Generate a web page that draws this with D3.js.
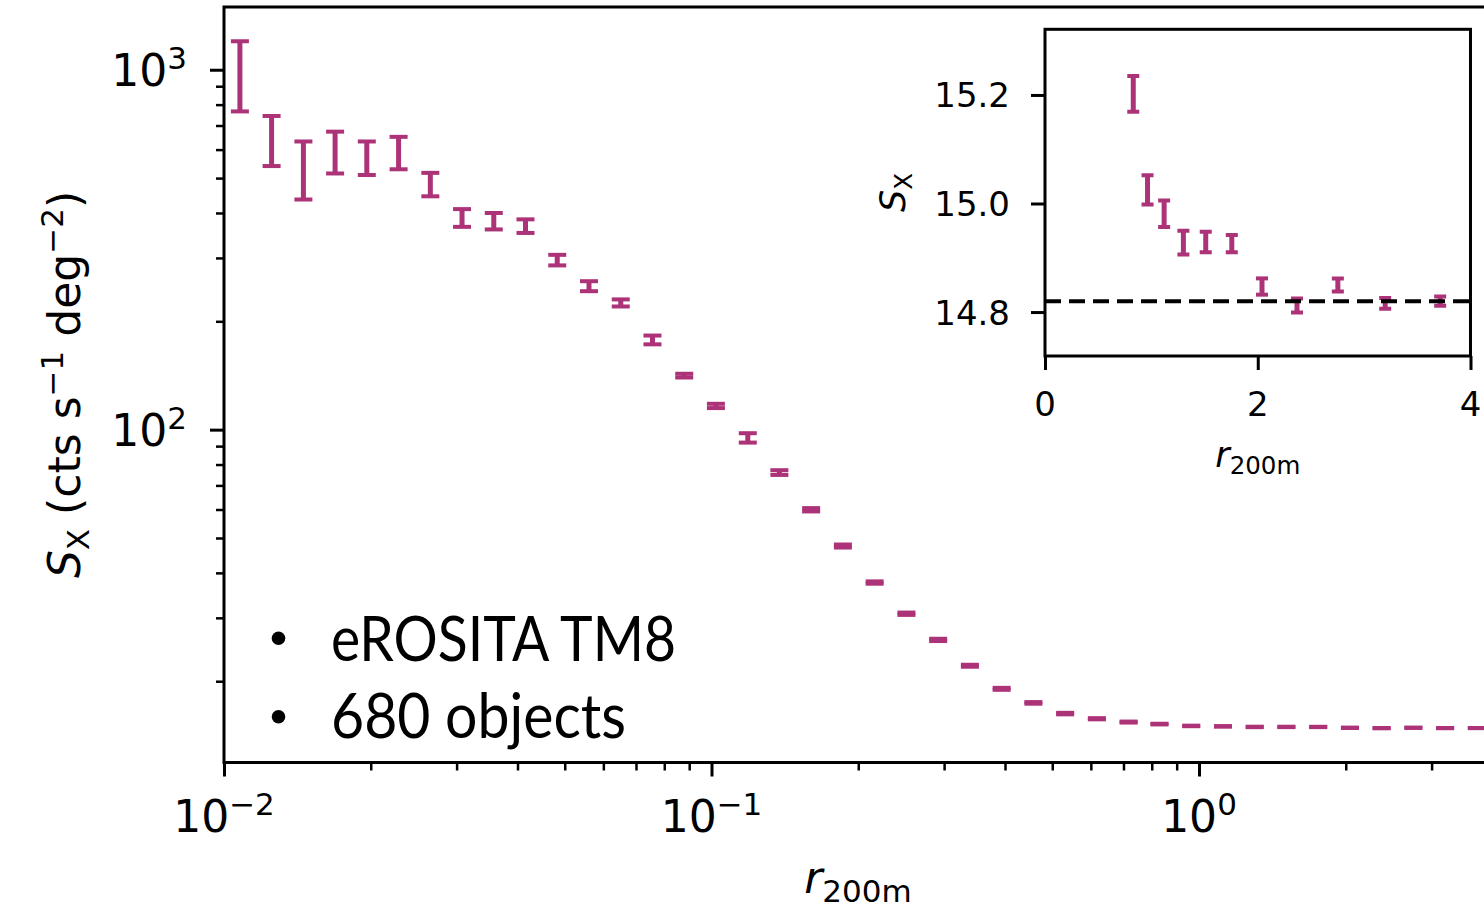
<!DOCTYPE html>
<html>
<head>
<meta charset="utf-8">
<script src="https://cdn.jsdelivr.net/npm/d3@7"></script>
<style>
  body { margin: 0; background: #fff; }
  text { font-family: "DejaVu Sans", sans-serif; fill: #000; white-space: pre; }
</style>
</head>
<body>
<div id="chart"></div>
<script>
// stacked profile, radial bins in r200m (log bins 0.01 - 4)
var radius = [0.01078, 0.01252, 0.01455, 0.01690, 0.01963, 0.02281, 0.02650, 0.03078, 0.03576, 0.04154,
              0.04826, 0.05607, 0.06514, 0.07567, 0.08791, 0.1021, 0.1187, 0.1378, 0.1601, 0.1860,
              0.2161, 0.2511, 0.2917, 0.3389, 0.3937, 0.4574, 0.5314, 0.6173, 0.7171, 0.8298,
              0.9639, 1.120, 1.301, 1.511, 1.756, 2.040, 2.369, 2.753, 3.198, 3.715];
// surface brightness, cts s^-1 deg^-2
var sx = [983, 642, 534, 594, 571, 590, 481, 388, 380, 368,
          296, 250.5, 225, 177.6, 141.3, 116.4, 94.9, 76.0, 59.9, 47.5,
          37.6, 30.8, 26.05, 22.08, 19.05, 17.41, 16.26, 15.73, 15.40, 15.202,
          15.025, 14.981, 14.928, 14.929, 14.926, 14.847, 14.812, 14.850, 14.816, 14.820];
var sxErr = [217, 102, 98, 79, 61, 61, 36, 22, 20, 16,
             10, 8, 5.1, 5, 1.7, 1.6, 2.85, 1.15, 0.64, 0.46,
             0.28, 0.23, 0.19, 0.14, 0.12, 0.09, 0.08, 0.06, 0.05, 0.033,
             0.027, 0.0245, 0.022, 0.019, 0.016, 0.015, 0.013, 0.012, 0.010, 0.0085];
var background = 14.82;   // dashed line in the inset

var legendLines = ["eROSITA TM8", "680 objects"];

var xMajor = [0.01, 0.1, 1];
var xMajorExp = ["\u22122", "\u22121", "0"];
var xMinor = [0.02,0.03,0.04,0.05,0.06,0.07,0.08,0.09, 0.2,0.3,0.4,0.5,0.6,0.7,0.8,0.9, 2,3];
var yMajor = [100, 1000];
var yMajorExp = ["2", "3"];
var yMinor = [20,30,40,50,60,70,80,90, 200,300,400,500,600,700,800,900];
var insetXTicks = [0, 2, 4];
var insetYTicks = [14.8, 15.0, 15.2];

var color = "#ad3378";
var width = 1484, height = 908;

var svg = d3.select("#chart").append("svg")
    .attr("width", width)
    .attr("height", height);

var data = radius.map(function(r, i) { return {r: r, v: sx[i], e: sxErr[i]}; });

// ---------- main panel
var x = d3.scaleLog().domain([0.01, 4]).range([224, 1492.5]);
var y = d3.scaleLog().domain([11.89, 1494]).range([762.5, 7]);

function errorbars(g, xs, ys, capW, lw, cw) {
    var eb = g.selectAll("g.eb")
        .data(data)
        .enter()
        .append("g")
        .attr("class", "eb");
    eb.append("line")
        .attr("x1", function(d) { return xs(d.r); })
        .attr("x2", function(d) { return xs(d.r); })
        .attr("y1", function(d) { return ys(d.v - d.e); })
        .attr("y2", function(d) { return ys(d.v + d.e); })
        .style("stroke", color)
        .style("stroke-width", lw);
    [-1, 1].forEach(function(s) {
        eb.append("line")
            .attr("x1", function(d) { return xs(d.r) - capW / 2; })
            .attr("x2", function(d) { return xs(d.r) + capW / 2; })
            .attr("y1", function(d) { return ys(d.v + s * d.e); })
            .attr("y2", function(d) { return ys(d.v + s * d.e); })
            .style("stroke", color)
            .style("stroke-width", cw);
    });
}

errorbars(svg.append("g"), x, y, 18, 5, 4);

// ticks
function ticks(axis, vals, size, sw, transform) {
    var g = svg.append("g")
        .attr("transform", transform)
        .call(axis.tickValues(vals).tickSize(size).tickFormat(""));
    g.select(".domain").remove();
    g.selectAll(".tick line").style("stroke", "#000").style("stroke-width", sw);
}
ticks(d3.axisBottom(x), xMinor, 8, 2.5, "translate(0,762.5)");
ticks(d3.axisBottom(x), xMajor, 14, 3, "translate(0,762.5)");
ticks(d3.axisLeft(y), yMinor, 8, 2.5, "translate(224,0)");
ticks(d3.axisLeft(y), yMajor, 14, 3, "translate(224,0)");

// spines
svg.append("rect")
    .attr("x", 224).attr("y", 7)
    .attr("width", 1492.5 - 224).attr("height", 762.5 - 7)
    .style("fill", "none").style("stroke", "#000").style("stroke-width", 3);

// tick labels, 10^n
function powLabel(t, exp) {
    t.append("tspan").text("10");
    t.append("tspan").attr("font-size", 31).attr("dy", -17).text(exp);
}
xMajor.forEach(function(v, i) {
    var t = svg.append("text")
        .attr("x", x(v)).attr("y", 832)
        .attr("text-anchor", "middle")
        .attr("font-size", 44);
    powLabel(t, xMajorExp[i]);
});
yMajor.forEach(function(v, i) {
    var t = svg.append("text")
        .attr("x", 187).attr("y", y(v) + 16)
        .attr("text-anchor", "end")
        .attr("font-size", 44);
    powLabel(t, yMajorExp[i]);
});

// axis labels
var xl = svg.append("text")
    .attr("x", 858).attr("y", 893)
    .attr("text-anchor", "middle")
    .attr("font-size", 44);
xl.append("tspan").style("font-style", "italic").text("r");
xl.append("tspan").attr("font-size", 31).attr("dy", 9).text("200m");

var yl = svg.append("text")
    .attr("transform", "translate(80,384.5) rotate(-90)")
    .attr("text-anchor", "middle")
    .attr("font-size", 44);
yl.append("tspan").style("font-style", "italic").text("S");
yl.append("tspan").attr("font-size", 31).attr("dy", 9).text("X");
yl.append("tspan").attr("dy", -9).text(" (cts s");
yl.append("tspan").attr("font-size", 31).attr("dy", -17).text("\u22121");
yl.append("tspan").attr("dy", 17).text(" deg");
yl.append("tspan").attr("font-size", 31).attr("dy", -17).text("\u22122");
yl.append("tspan").attr("dy", 17).text(")");

// legend text (bullets)
var lg = svg.append("g");
legendLines.forEach(function(s, i) {
    lg.append("circle")
        .attr("cx", 278.5).attr("cy", 638.3 + i * 78.4)
        .attr("r", 6.8)
        .style("fill", "#000");
    lg.append("text")
        .attr("x", 331).attr("y", 660.5 + i * 77.3)
        .attr("font-size", 62)
        .attr("textLength", i == 0 ? 345 : 295)
        .attr("lengthAdjust", "spacingAndGlyphs")
        .style("font-family", "Lato, 'Open Sans', sans-serif")
        .text(s);
});

// ---------- inset
var xi = d3.scaleLinear().domain([0, 4]).range([1045, 1470.5]);
var yi = d3.scaleLinear().domain([14.719, 15.321]).range([356, 29.3]);

svg.append("rect")
    .attr("x", 1045).attr("y", 29.3)
    .attr("width", 1470.5 - 1045).attr("height", 356 - 29.3)
    .style("fill", "#fff");

svg.append("clipPath").attr("id", "insetClip")
    .append("rect")
    .attr("x", 1045).attr("y", 29.3)
    .attr("width", 1470.5 - 1045).attr("height", 356 - 29.3);

var ig = svg.append("g").attr("clip-path", "url(#insetClip)");
errorbars(ig, xi, yi, 12, 5, 4);

ig.append("line")
    .attr("x1", xi(0)).attr("x2", xi(4))
    .attr("y1", yi(background)).attr("y2", yi(background))
    .style("stroke", "#000")
    .style("stroke-width", 4)
    .style("stroke-dasharray", "16,8");

ticks(d3.axisBottom(xi), insetXTicks, 14, 3, "translate(0,356)");
ticks(d3.axisLeft(yi), insetYTicks, 14, 3, "translate(1045,0)");

svg.append("rect")
    .attr("x", 1045).attr("y", 29.3)
    .attr("width", 1470.5 - 1045).attr("height", 356 - 29.3)
    .style("fill", "none").style("stroke", "#000").style("stroke-width", 3);

insetXTicks.forEach(function(v) {
    svg.append("text")
        .attr("x", xi(v)).attr("y", 416)
        .attr("text-anchor", "middle")
        .attr("font-size", 34)
        .text(v);
});
insetYTicks.forEach(function(v) {
    svg.append("text")
        .attr("x", 1010).attr("y", yi(v) + 12.5)
        .attr("text-anchor", "end")
        .attr("font-size", 34)
        .text(d3.format(".1f")(v));
});

var ixl = svg.append("text")
    .attr("x", xi(2)).attr("y", 467)
    .attr("text-anchor", "middle")
    .attr("font-size", 35);
ixl.append("tspan").style("font-style", "italic").text("r");
ixl.append("tspan").attr("font-size", 24.5).attr("dy", 7).text("200m");

var iyl = svg.append("text")
    .attr("transform", "translate(905,192.5) rotate(-90)")
    .attr("text-anchor", "middle")
    .attr("font-size", 35);
iyl.append("tspan").style("font-style", "italic").text("S");
iyl.append("tspan").attr("font-size", 24.5).attr("dy", 7).text("X");
</script>
</body>
</html>
